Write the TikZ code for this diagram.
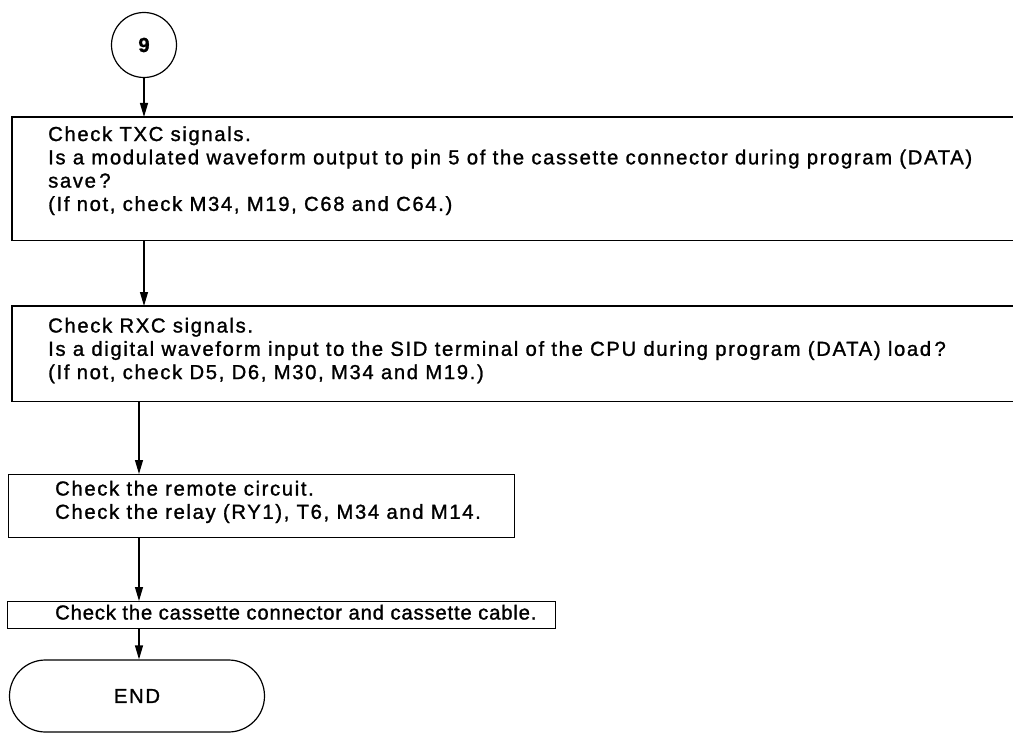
\documentclass[tikz,border=0pt]{standalone}
\usepackage{fontspec}
\setmainfont{Liberation Sans}[LetterSpace=8,FakeBold=1.2]
\usetikzlibrary{arrows.meta,shapes.misc}
\begin{document}
\begin{tikzpicture}[x=1pt,y=-1pt,
  every node/.style={font=\fontsize{20.3}{23.3}\selectfont, inner sep=0pt},
  line/.style={line width=1.2pt},
  flow/.style={line width=1.2pt,-{Triangle[length=14pt,width=8pt]}},
  frame/.style={rectangle, anchor=north west},
  txt/.style={align=left, anchor=north west}]
\useasboundingbox (0,0) rectangle (1013,749);

\node[circle, draw, line width=1.2pt, minimum size=65pt, font=\fontsize{20.3}{23.3}\selectfont\bfseries] (c9) at (144,45) {9};

% box 1 (open to the right)
\node[frame, minimum width=1001pt, minimum height=123pt] (b1) at (12,117) {};
\draw[line] (b1.north east) -- (b1.north west) -- (b1.south west) -- (b1.south east);
\node[txt] (t1) at (48,124.5)
  {\strut Check TXC signals.\\
   \strut Is a modulated waveform output to pin 5 of the cassette connector during program (DATA)\\
   \strut save\,?\\
   \strut (If not, check M34, M19, C68 and C64.)};

% box 2 (open to the right)
\node[frame, minimum width=1001pt, minimum height=95pt] (b2) at (12,306) {};
\draw[line] (b2.north east) -- (b2.north west) -- (b2.south west) -- (b2.south east);
\node[txt] (t2) at (48,316)
  {\strut Check RXC signals.\\
   \strut Is a digital waveform input to the SID terminal of the CPU during program (DATA) load\,?\\
   \strut (If not, check D5, D6, M30, M34 and M19.)};

% box 3
\node[frame, draw, line width=1.2pt, minimum width=506pt, minimum height=63pt] (b3) at (8,474) {};
\node[txt] (t3) at (55,479)
  {\strut Check the remote circuit.\\
   \strut Check the relay (RY1), T6, M34 and M14.};

% box 4
\node[frame, draw, line width=1.2pt, minimum width=548pt, minimum height=27pt] (b4) at (7,601) {};
\node[txt] (t4) at (55,603) {\addfontfeature{LetterSpace=4}\strut Check the cassette connector and cassette cable.};

% terminal
\node[rounded rectangle, draw, line width=1.2pt, minimum width=255pt, minimum height=72pt] (end) at (137,696) {END};

\coordinate (ax) at (139,0);
\draw[flow] (c9.south) -- (c9.south |- b1.north);
\draw[flow] (b1.south -| c9) -- (b2.north -| c9);
\draw[flow] (b2.south -| ax) -- (b3.north -| ax);
\draw[flow] (b3.south -| ax) -- (b4.north -| ax);
\draw[flow] (b4.south -| ax) -- (end.north -| ax);
\end{tikzpicture}
\end{document}
